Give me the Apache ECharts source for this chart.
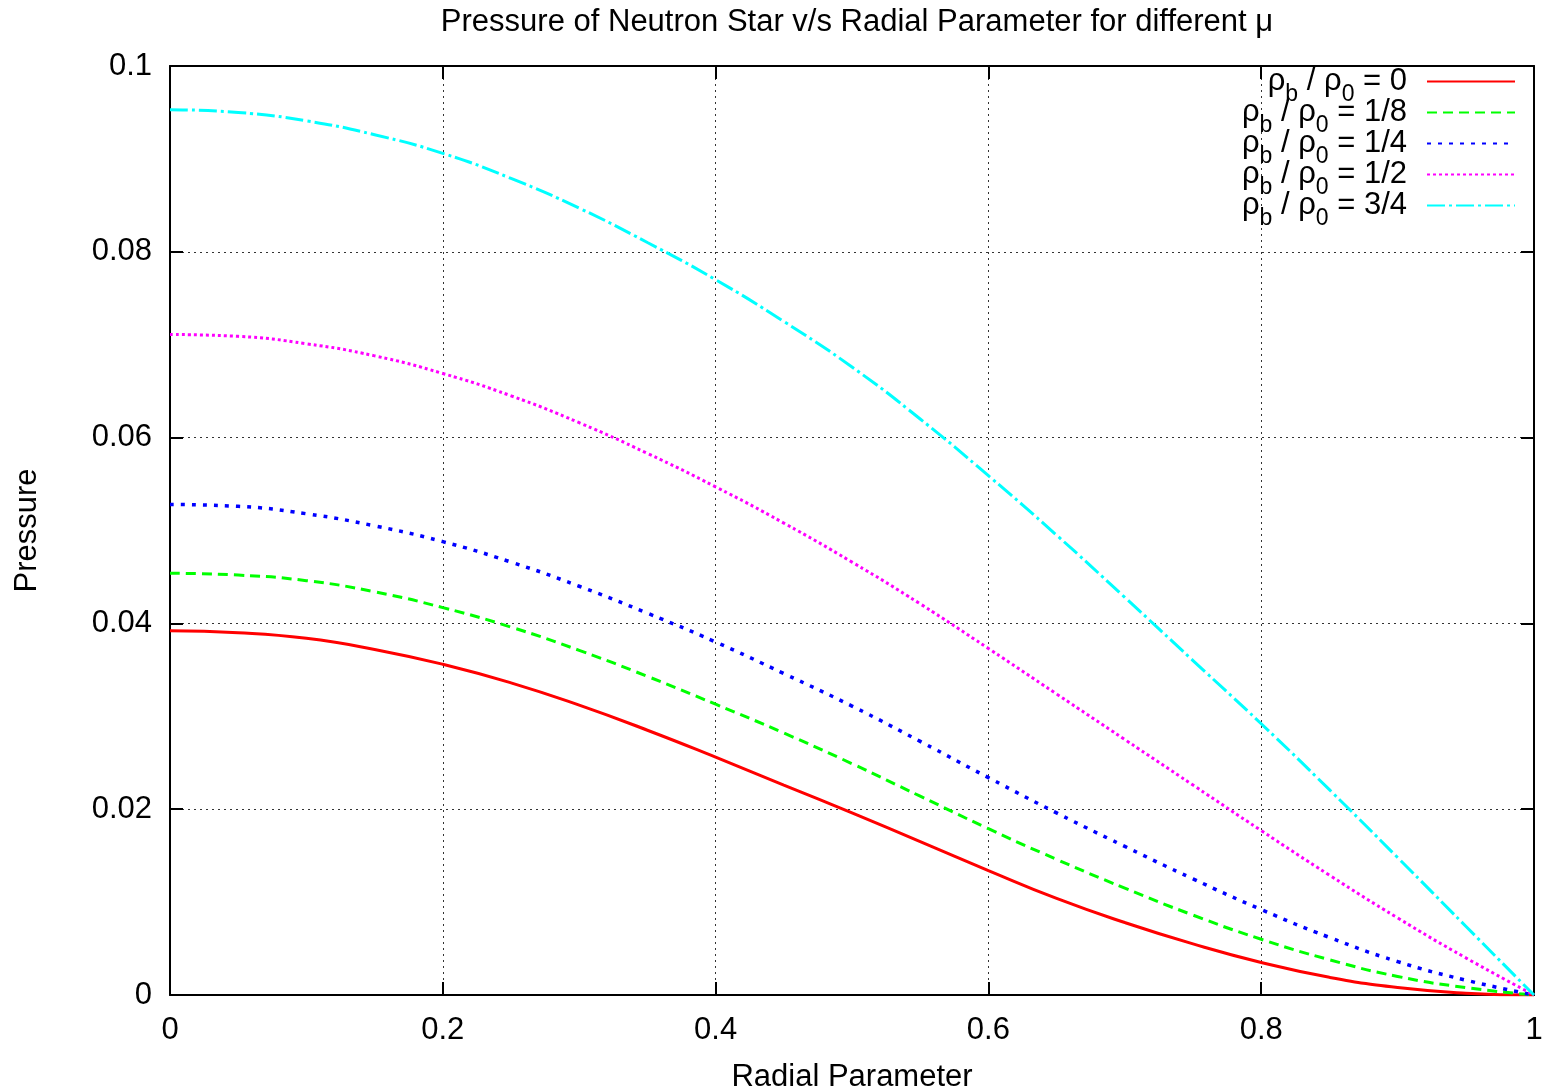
<!DOCTYPE html>
<html>
<head>
<meta charset="utf-8">
<script src="https://cdn.jsdelivr.net/npm/echarts@6/dist/echarts.min.js"></script>
<style>
html,body{margin:0;padding:0;background:#fff;}
#chart{width:1542px;height:1090px;}
</style>
</head>
<body>
<div id="chart"></div>
<script>
// Radial parameter samples
const radial = [0, 0.05, 0.1, 0.15, 0.2, 0.25, 0.3, 0.35, 0.4, 0.45, 0.5, 0.55, 0.6, 0.65, 0.7, 0.75, 0.8, 0.85, 0.9, 0.95, 1.0];
// Pressure for each density ratio rho_b / rho_0
const pRatio0   = [0.0392, 0.0390, 0.0384, 0.0372, 0.0356, 0.0336, 0.0312, 0.0285, 0.0256, 0.0226, 0.0196, 0.0165, 0.0134, 0.0104, 0.0078, 0.0055, 0.0035, 0.0019, 0.0008, 0.0002, 0];
const pRatio1_8 = [0.0454, 0.0452, 0.0446, 0.0434, 0.0417, 0.0396, 0.0371, 0.0343, 0.0313, 0.0282, 0.0249, 0.0214, 0.0179, 0.0146, 0.0115, 0.0086, 0.0060, 0.0038, 0.0020, 0.0008, 0];
const pRatio1_4 = [0.0528, 0.0526, 0.0518, 0.0505, 0.0488, 0.0466, 0.0440, 0.0411, 0.0380, 0.0346, 0.0311, 0.0273, 0.0234, 0.0196, 0.0160, 0.0125, 0.0092, 0.0062, 0.0036, 0.0016, 0];
const pRatio1_2 = [0.0711, 0.0709, 0.0701, 0.0688, 0.0669, 0.0645, 0.0616, 0.0583, 0.0547, 0.0508, 0.0466, 0.0421, 0.0373, 0.0324, 0.0275, 0.0226, 0.0177, 0.0129, 0.0083, 0.0040, 0];
const pRatio3_4 = [0.0953, 0.0950, 0.0941, 0.0926, 0.0906, 0.0879, 0.0847, 0.0810, 0.0770, 0.0725, 0.0676, 0.0620, 0.0559, 0.0495, 0.0428, 0.0360, 0.0292, 0.0221, 0.0148, 0.0074, 0];
const ratioLabels = ['0', '1/8', '1/4', '1/2', '3/4'];
const seriesColors = ['#ff0000', '#00ff00', '#0000ff', '#ff00ff', '#00ffff'];
const allValues = [pRatio0, pRatio1_8, pRatio1_4, pRatio1_2, pRatio3_4];

const styles = [
  {width: 3, type: 'solid'},
  {width: 3, type: [10, 6]},
  {width: 3.5, type: [4, 7]},
  {width: 3, type: [3, 3]},
  {width: 3, type: [18, 4, 3, 4]}
];

const font = 'Liberation Sans, Arial, Helvetica, sans-serif';
const FS = 31;

const series = allValues.map((vals, i) => ({
  name: ratioLabels[i],
  type: 'line',
  smooth: 0.5,
  symbol: 'none',
  xAxisIndex: 0,
  yAxisIndex: 0,
  data: radial.map((x, k) => [x, vals[k]]),
  lineStyle: {color: seriesColors[i], width: styles[i].width, type: styles[i].type},
  itemStyle: {color: seriesColors[i]},
  z: 3 + i
}));

const chart = echarts.init(document.getElementById('chart'), null, {renderer: 'canvas'});
chart.setOption({
  animation: false,
  backgroundColor: '#ffffff',
  title: {
    text: 'Pressure of Neutron Star v/s Radial Parameter for different μ',
    left: 852,
    textAlign: 'center',
    top: 2,
    textStyle: {fontFamily: font, fontSize: FS, fontWeight: 'normal', color: '#000'}
  },
  legend: {
    orient: 'vertical',
    right: 26,
    top: 57,
    align: 'right',
    itemWidth: 88,
    itemHeight: 14,
    itemGap: -18,
    padding: 0,
    data: ratioLabels,
    itemStyle: {opacity: 0},
    formatter: name => '{t|ρ}{s|b}{t| / ρ}{s|0}{t| = ' + name + '}',
    textStyle: {
      fontFamily: font,
      color: '#000',
      padding: [0, 15, 0, 0],
      rich: {
        t: {fontFamily: font, fontSize: FS, color: '#000', lineHeight: 31},
        s: {fontFamily: font, fontSize: 23, color: '#000', padding: [26, 0, 0, 0], lineHeight: 31}
      }
    }
  },
  grid: {left: 170, top: 66, width: 1364, height: 929, containLabel: false, outerBoundsMode: 'none'},
  xAxis: [
    {
      type: 'value', min: 0, max: 1, interval: 0.2, position: 'bottom',
      name: 'Radial Parameter', nameLocation: 'middle', nameGap: 67,
      nameTextStyle: {fontFamily: font, fontSize: FS, color: '#000'},
      axisLine: {show: true, onZero: false, lineStyle: {color: '#000', width: 2}},
      axisTick: {show: true, inside: true, length: 13, lineStyle: {color: '#000', width: 2}},
      axisLabel: {fontFamily: font, fontSize: FS, color: '#000', margin: 20},
      splitLine: {show: true, lineStyle: {color: '#333', width: 1, type: [2, 4]}}
    },
    {
      type: 'value', min: 0, max: 1, interval: 0.2, position: 'top',
      axisLine: {show: true, onZero: false, lineStyle: {color: '#000', width: 2}},
      axisTick: {show: true, inside: true, length: 13, lineStyle: {color: '#000', width: 2}},
      axisLabel: {show: false},
      splitLine: {show: false}
    }
  ],
  yAxis: [
    {
      type: 'value', min: 0, max: 0.1, interval: 0.02, position: 'left',
      name: 'Pressure', nameLocation: 'middle', nameGap: 127, nameRotate: 90,
      nameTextStyle: {fontFamily: font, fontSize: FS, color: '#000'},
      axisLine: {show: true, onZero: false, lineStyle: {color: '#000', width: 2}},
      axisTick: {show: true, inside: true, length: 13, lineStyle: {color: '#000', width: 2}},
      axisLabel: {fontFamily: font, fontSize: FS, color: '#000', margin: 18},
      splitLine: {show: true, lineStyle: {color: '#333', width: 1, type: [2, 4]}}
    },
    {
      type: 'value', min: 0, max: 0.1, interval: 0.02, position: 'right',
      axisLine: {show: true, onZero: false, lineStyle: {color: '#000', width: 2}},
      axisTick: {show: true, inside: true, length: 13, lineStyle: {color: '#000', width: 2}},
      axisLabel: {show: false},
      splitLine: {show: false}
    }
  ],
  series: series
});
</script>
</body>
</html>
